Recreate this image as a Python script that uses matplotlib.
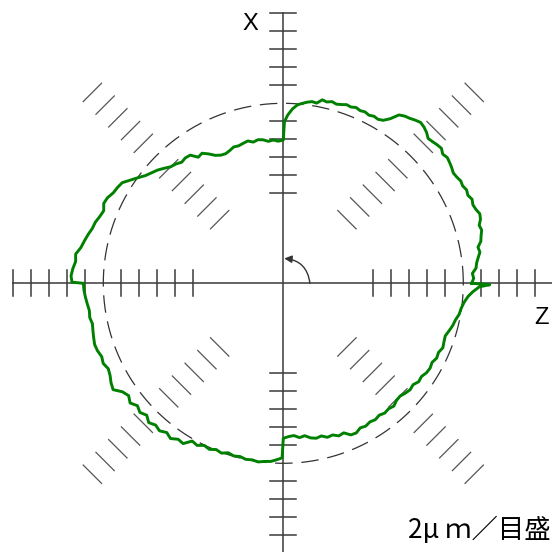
import numpy as np
import matplotlib
matplotlib.use("Agg")
import matplotlib.pyplot as plt

# roundness profile, radius in divisions (2 um / division), angle in deg from +z, ccw
q1_deg = [0, 1.5, 3, 4.5, 6, 7.5, 9, 10.5, 12, 13.5, 15, 16.5, 18, 19.5, 21, 22.5, 24, 25.5,
          27, 28.5, 30, 31.5, 33, 34.5, 36, 37.5, 39, 40.5, 42, 43.5, 45, 46.5, 48, 49.5, 51,
          52.5, 54, 55.5, 57, 58.5, 60, 61.5, 63, 64.5, 66, 67.5, 69, 70.5, 72, 73.5, 75, 76.5,
          78, 79.5, 81, 82.5, 84, 85.5, 87, 88.5, 89.6]
q1_r = [10.47, 10.58, 10.52, 10.74, 10.80, 10.92, 11.06, 11.00, 11.22, 11.30, 11.41, 11.35,
        11.52, 11.58, 11.46, 11.40, 11.48, 11.36, 11.43, 11.34, 11.38, 11.30, 11.26, 11.35,
        11.42, 11.48, 11.40, 11.55, 11.50, 11.43, 11.38, 11.56, 11.68, 11.75, 11.66, 11.55,
        11.48, 11.35, 10.90, 10.62, 10.52, 10.56, 10.48, 10.55, 10.50, 10.57, 10.49, 10.53,
        10.44, 10.38, 10.45, 10.36, 10.42, 10.18, 10.22, 10.15, 10.05, 9.94, 9.70, 9.35, 8.98]

q2_deg = [90, 92, 94, 96, 98, 100, 102, 104, 106, 108, 110, 112, 114, 116, 118, 120, 122, 124,
          126, 128, 130, 132, 134, 136, 138, 140, 142, 144, 146, 148, 150, 152, 154, 156, 158,
          160, 162, 164, 166, 168, 170, 172, 174, 176, 178, 179.7]
q2_r = [7.96, 7.90, 7.98, 7.93, 8.05, 8.10, 8.02, 8.15, 8.09, 8.03, 8.06, 7.95, 7.88, 7.92,
        8.05, 8.30, 8.52, 8.45, 8.80, 8.84, 8.78, 8.92, 9.00, 9.20, 9.40, 9.55, 9.72, 9.98,
        10.25, 10.55, 10.64, 10.70, 10.86, 10.92, 10.76, 10.85, 10.98, 11.04, 11.18, 11.30,
        11.42, 11.65, 11.60, 11.72, 11.80, 11.74]

q3_deg = [180, 182, 184, 186, 188, 190, 192, 194, 196, 198, 200, 202, 204, 206, 208, 210, 212,
          214, 216, 218, 220, 222, 224, 226, 228, 230, 232, 234, 236, 238, 240, 242, 244, 246,
          248, 250, 252, 254, 256, 258, 260, 262, 264, 266, 268, 269.6]
q3_r = [11.11, 11.08, 11.02, 10.95, 10.88, 10.92, 10.84, 10.90, 10.96, 11.02, 10.98, 10.88,
        10.95, 10.82, 10.90, 11.05, 11.15, 10.78, 10.62, 10.80, 10.58, 10.72, 10.55, 10.76,
        10.60, 10.70, 10.52, 10.66, 10.45, 10.50, 10.12, 10.20, 10.02, 10.10, 9.96, 10.04,
        9.90, 9.98, 9.92, 10.00, 9.96, 10.02, 9.95, 9.92, 9.80, 9.70]

q4_deg = [270, 272, 274, 276, 278, 280, 282, 284, 286, 288, 290, 292, 294, 296, 298, 300, 302,
          304, 306, 308, 310, 312, 314, 316, 318, 320, 322, 324, 326, 328, 330, 332, 334, 336,
          338, 340, 342, 344, 346, 348, 350, 352, 354, 356, 357.5, 359, 359.6]
q4_r = [8.61, 8.52, 8.48, 8.62, 8.55, 8.72, 8.80, 8.74, 8.90, 8.86, 9.02, 8.96, 9.22, 9.25,
        9.10, 9.16, 9.08, 9.14, 9.06, 9.15, 9.10, 9.18, 9.05, 9.02, 9.12, 9.20, 9.15, 9.30,
        9.26, 9.38, 9.42, 9.36, 9.48, 9.44, 9.56, 9.50, 9.46, 9.58, 9.70, 9.78, 9.92, 9.98,
        10.10, 10.30, 10.55, 10.90, 11.47]

base_r = 10
tick_r = [5, 6, 7, 8, 9, 11, 12, 13, 14, 15]
scale_label = "2μ ｍ／目盛"

# pixel geometry of the original: centre at (283.3, 283.3), 18 px per division
W = 552
cx = 283.3
ppd = 18.0

fig = plt.figure(figsize=(W / 100, W / 100), dpi=100)
ax = fig.add_axes([0, 0, 1, 1])
ax.set_xlim(-cx / ppd, (W - cx) / ppd)
ax.set_ylim(-(W - cx) / ppd, cx / ppd)
ax.set_aspect("equal")
ax.axis("off")

axc = "#3a3a3a"
ax.plot([-15, 16], [0, 0], color=axc, lw=1.1, zorder=2)
ax.plot([0, 0], [-16, 15], color=axc, lw=1.1, zorder=2)

hl = 0.72
for r in tick_r:
    ax.plot([r, r], [-hl, hl], color=axc, lw=1.1, zorder=2)
    ax.plot([-r, -r], [-hl, hl], color=axc, lw=1.1, zorder=2)
    ax.plot([-hl, hl], [r, r], color=axc, lw=1.1, zorder=2)
    ax.plot([-hl, hl], [-r, -r], color=axc, lw=1.1, zorder=2)
    for a in [45, 135, 225, 315]:
        t = np.radians(a)
        px, py = r * np.cos(t), r * np.sin(t)
        dx, dy = -np.sin(t) * hl, np.cos(t) * hl
        ax.plot([px - dx, px + dx], [py - dy, py + dy], color="#555555", lw=0.9, zorder=2)

th = np.linspace(0, 2 * np.pi, 400)
ax.plot(base_r * np.cos(th), base_r * np.sin(th), color="#333333", lw=0.9,
        linestyle=(0, (14, 7)), zorder=2)

ang = np.radians(np.concatenate([q1_deg, q2_deg, q3_deg, q4_deg, [q1_deg[0]]]))
rad = np.concatenate([q1_r, q2_r, q3_r, q4_r, [q1_r[0]]])
ax.plot(rad * np.cos(ang), rad * np.sin(ang), color="#008000", lw=2.1, zorder=3)

# rotation arrow
ax.annotate("", xy=(0.05, 1.38), xytext=(1.48, 0),
            arrowprops=dict(arrowstyle="-|>,head_length=0.45,head_width=0.22",
                            connectionstyle="arc3,rad=0.4", color="#333333", lw=1.0,
                            shrinkA=0, shrinkB=0), zorder=4)

ax.text(-1.85, 14.4, "X", fontsize=17, family="Liberation Sans", ha="center", va="center")
ax.text(14.37, -1.93, "Z", fontsize=17, family="Liberation Sans", ha="center", va="center")
ax.text((551 - cx) / ppd, (cx - 530) / ppd, scale_label, fontsize=19,
        family=["Noto Sans CJK JP", "DejaVu Sans"], ha="right", va="center")

fig.savefig("out.png", dpi=100)
